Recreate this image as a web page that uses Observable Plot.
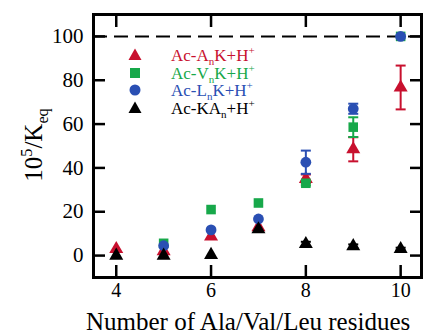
<!DOCTYPE html>
<html><head><meta charset="utf-8">
<script src="https://cdn.jsdelivr.net/npm/d3@7"></script>
<script src="https://cdn.jsdelivr.net/npm/@observablehq/plot@0.6"></script>
<style>
body{margin:0;background:#fff;}
#wrap{position:relative;width:429px;height:333px;overflow:hidden;font-family:"Liberation Serif",serif;}
#wrap svg, #wrap svg text{font-family:"Liberation Serif",serif !important;}
.ov{position:absolute;white-space:nowrap;line-height:1;}
#legend div{position:absolute;left:0;font-size:17px;white-space:nowrap;}
sub,sup{font-size:65%;line-height:0;}
</style></head>
<body><div id="wrap"></div>
<script>
const residues = [4, 5, 6, 7, 8, 9, 10];
const alaK    = [3, 2, 8.7, 13, 35, 48.5, 76.7];
const alaErr  = [0, 0, 0, 0, 2, 5.5, 10];
const valK    = [null, 5.6, 21, 24, 33, 58.6, 100];
const valErr  = [0, 0, 0, 0, 1, 4.5, 0];
const leuK    = [null, 4.5, 11.7, 16.7, 42.6, 67, 100];
const leuErr  = [0, 0, 0, 0, 5.3, 2.3, 0];
const kaK     = [0, 0, 0.3, 12, 5.3, 4.3, 3];
const kaErr   = [0, 0, 0, 0, 1, 0.8, 0.6];
const xTicks = [4, 6, 8, 10];
const yTicks = [0, 20, 40, 60, 80, 100];

const series = [
  {name:"Ac-AnK+H+", vals:alaK, errs:alaErr, color:"#c8102e", symbol:"triangle", r:5.2},
  {name:"Ac-VnK+H+", vals:valK, errs:valErr, color:"#17a84a", symbol:"square", r:5.4},
  {name:"Ac-LnK+H+", vals:leuK, errs:leuErr, color:"#2a4fb3", symbol:"circle", r:5.4},
  {name:"Ac-KAn+H+", vals:kaK, errs:kaErr, color:"#000000", symbol:"triangle", r:5.2}
];
const rows = [];
series.forEach((s, si) => residues.forEach((n, i) => {
  if (s.vals[i] != null) rows.push({s: si, n, v: s.vals[i], e: s.errs[i], color: s.color, symbol: s.symbol, r: s.r});
}));
const errRows = rows.filter(d => d.e > 0);
const cap = {draw(ctx){ ctx.moveTo(-5, 0); ctx.lineTo(5, 0); }};

const marks = [
  Plot.ruleY([100], {strokeDasharray:"14,7", strokeWidth:2}),
  Plot.axisX(xTicks, {tickSize:0, tickPadding:5, label:null, fontSize:20, fontFamily:"Liberation Serif"}),
  Plot.axisY(yTicks, {tickSize:0, tickPadding:10, label:null, fontSize:21, fontFamily:"Liberation Serif"}),
  Plot.axisY(yTicks, {anchor:"left", tickSize:-12, tickFormat:() => "", label:null, strokeWidth:2.5}),
  Plot.axisY(yTicks, {anchor:"right", tickSize:-12, tickFormat:() => "", label:null, strokeWidth:2.5}),
  Plot.axisX(xTicks, {anchor:"bottom", tickSize:-12, tickFormat:() => "", label:null, strokeWidth:2.5}),
  Plot.axisX(xTicks, {anchor:"top", tickSize:-12, tickFormat:() => "", label:null, strokeWidth:2.5})
];
series.forEach((s, si) => {
  const er = errRows.filter(d => d.s === si);
  const pr = rows.filter(d => d.s === si);
  marks.push(
    Plot.ruleX(er, {x:"n", y1:d => d.v - d.e, y2:d => d.v + d.e, stroke:s.color, strokeWidth:2}),
    Plot.dot(er, {x:"n", y:d => d.v - d.e, symbol:cap, stroke:s.color, strokeWidth:2, fill:"none"}),
    Plot.dot(er, {x:"n", y:d => d.v + d.e, symbol:cap, stroke:s.color, strokeWidth:2, fill:"none"}),
    Plot.dot(pr, {x:"n", y:"v", symbol:s.symbol, r:s.r, fill:s.color, stroke:"none"})
  );
});
marks.push(Plot.frame({strokeWidth:3}));

const chart = Plot.plot({
  width:429, height:333,
  marginLeft:93, marginRight:8, marginTop:14, marginBottom:56,
  x:{domain:[3.52, 10.44]},
  y:{domain:[-10, 110]},
  style:{fontFamily:"Liberation Serif", fontSize:"20px", color:"black", background:"white"},
  marks
});
const wrap = document.getElementById("wrap");
wrap.appendChild(chart);

// axis titles
const xl = document.createElement("div");
xl.className = "ov";
xl.style.cssText = "left:86px;top:309px;font-size:25px;";
xl.textContent = "Number of Ala/Val/Leu residues";
wrap.appendChild(xl);

const yl = document.createElement("div");
yl.className = "ov";
yl.style.cssText = "left:33px;top:145px;font-size:25px;transform:translate(-50%,-50%) rotate(-90deg);";
yl.innerHTML = "10<sup>5</sup>/K<sub>eq</sub>";
wrap.appendChild(yl);

// legend
const legend = document.createElement("div");
legend.id = "legend";
legend.style.cssText = "position:absolute;left:127px;top:46px;";
const legendHtml = [
  "Ac-A<sub>n</sub>K+H<sup>+</sup>",
  "Ac-V<sub>n</sub>K+H<sup>+</sup>",
  "Ac-L<sub>n</sub>K+H<sup>+</sup>",
  "Ac-KA<sub>n</sub>+H<sup>+</sup>"
];
const symSvg = {
  triangle: c => `<svg width="16" height="16" viewBox="-8 -8 16 16"><path d="M0,-6.5L6.5,5L-6.5,5Z" fill="${c}"/></svg>`,
  square: c => `<svg width="16" height="16" viewBox="-8 -8 16 16"><rect x="-5" y="-5" width="10" height="10" fill="${c}"/></svg>`,
  circle: c => `<svg width="16" height="16" viewBox="-8 -8 16 16"><circle r="5.5" fill="${c}"/></svg>`
};
series.forEach((s, i) => {
  const row = document.createElement("div");
  row.style.top = (i * 17.7) + "px";
  row.style.color = s.color;
  row.innerHTML = `<span style="position:absolute;left:0;top:1px">${symSvg[s.symbol](s.color)}</span><span style="position:absolute;left:44px;top:0">${legendHtml[i]}</span>`;
  legend.appendChild(row);
});
wrap.appendChild(legend);
</script></body></html>
